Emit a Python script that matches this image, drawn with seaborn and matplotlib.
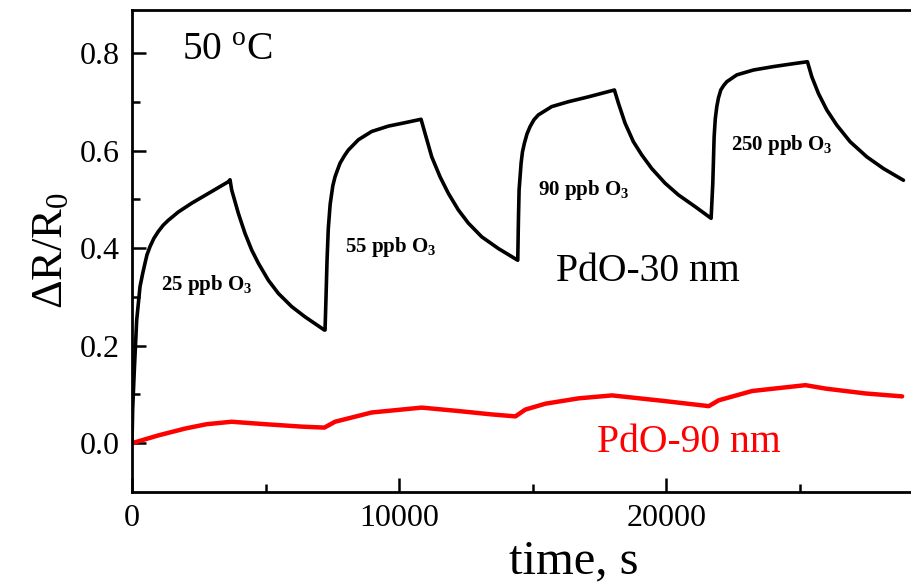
import matplotlib
matplotlib.use("Agg")
import matplotlib.pyplot as plt
import seaborn as sns
import pandas as pd

# PdO-30 nm film response (time in s, dR/R0)
t_30 = [0, 25, 87, 175, 300, 400, 487, 560, 674, 820, 985, 1170, 1360, 1735, 2235, 2860, 3607, 3670,
        3733, 3983, 4232, 4482, 4731, 5106, 5481, 5980, 6479, 7203,
        7228, 7265, 7303, 7350, 7420, 7478, 7520, 7602, 7680, 7790, 7950, 8101, 8476, 8975, 9600, 10224, 10823,
        10973, 11223, 11535, 11847, 12221, 12596, 13096, 13720, 14444,
        14469, 14494, 14569, 14620, 14693, 14790, 14905, 15050, 15216, 15716, 16340, 17090, 18063,
        18213, 18462, 18774, 19086, 19461, 19960, 20459, 21084, 21684,
        21747, 21797, 21840, 21897, 21960, 22046, 22150, 22271, 22646, 23269, 24018, 24643, 25290,
        25455, 25702, 26016, 26390, 26889, 27514, 28137, 28886]
r_30 = [0.0, 0.07, 0.150, 0.252, 0.321, 0.348, 0.369, 0.386, 0.403, 0.420, 0.434, 0.447, 0.457, 0.474, 0.492, 0.512, 0.536, 0.540,
        0.519, 0.471, 0.430, 0.396, 0.369, 0.334, 0.307, 0.280, 0.259, 0.232,
        0.232, 0.300, 0.375, 0.440, 0.490, 0.512, 0.528, 0.546, 0.558, 0.574, 0.589, 0.601, 0.622, 0.639, 0.650, 0.657, 0.664,
        0.635, 0.587, 0.546, 0.512, 0.478, 0.451, 0.423, 0.399, 0.375,
        0.457, 0.519, 0.574, 0.597, 0.615, 0.634, 0.649, 0.663, 0.673, 0.690, 0.700, 0.710, 0.724,
        0.697, 0.656, 0.618, 0.591, 0.563, 0.533, 0.509, 0.485, 0.461,
        0.533, 0.628, 0.665, 0.690, 0.708, 0.724, 0.733, 0.741, 0.755, 0.765, 0.772, 0.777, 0.782,
        0.751, 0.717, 0.683, 0.652, 0.618, 0.587, 0.563, 0.539]

# PdO-90 nm film response
t_90 = [0, 985, 1985, 2797, 3733, 4981, 6355, 7203, 7602, 8975, 10848, 12221, 13471, 14357,
        14730, 15479, 16728, 17976, 19848, 21597, 21971, 23219, 25215, 25964, 27462, 28836]
r_90 = [0.0, 0.016, 0.030, 0.039, 0.044, 0.039, 0.034, 0.032, 0.044, 0.063, 0.073, 0.066, 0.059, 0.055,
        0.069, 0.081, 0.092, 0.098, 0.087, 0.076, 0.088, 0.107, 0.119, 0.112, 0.102, 0.096]

# Ozone pulse labels: text, time, dR/R0
pulse_labels = [r"25 ppb O$_\mathbf{3}$", r"55 ppb O$_\mathbf{3}$",
                r"90 ppb O$_\mathbf{3}$", r"250 ppb O$_\mathbf{3}$"]
pulse_t = [1086, 7977, 15193, 22430]
pulse_r = [0.324, 0.402, 0.519, 0.611]

x_ticks = [0, 10000, 20000]
y_ticks = [0.0, 0.2, 0.4, 0.6, 0.8]

sns.set_style("ticks")
plt.rcParams["font.family"] = ["Liberation Serif", "DejaVu Serif"]
plt.rcParams["mathtext.fontset"] = "custom"
plt.rcParams["mathtext.rm"] = "Liberation Serif"
plt.rcParams["mathtext.it"] = "Liberation Serif:italic"
plt.rcParams["mathtext.bf"] = "Liberation Serif:bold"
for key in ["text.color", "axes.labelcolor", "xtick.color", "ytick.color", "axes.edgecolor"]:
    plt.rcParams[key] = "black"

fig = plt.figure(figsize=(9.12, 5.84), dpi=100)
ax = fig.add_axes([132 / 912, 92 / 584, 884 / 912, 482 / 584])

df30 = pd.DataFrame({"t": t_30, "r": r_30})
df90 = pd.DataFrame({"t": t_90, "r": r_90})
sns.lineplot(data=df30, x="t", y="r", ax=ax, color="black", lw=2.6,
             sort=False, estimator=None, solid_joinstyle="round")
sns.lineplot(data=df90, x="t", y="r", ax=ax, color="#ff0000", lw=3.2,
             sort=False, estimator=None, solid_joinstyle="round")

ax.set_xlim(0, 33100)
ax.set_ylim(-0.1, 0.888)
ax.set_xticks(x_ticks + [30000])
ax.set_xticklabels([str(v) for v in x_ticks] + [""])
ax.set_xticks([5000, 15000, 25000], minor=True)
ax.set_yticks(y_ticks)
ax.set_yticks([0.1, 0.3, 0.5, 0.7], minor=True)
ax.set_yticklabels([f"{v:.1f}" for v in y_ticks])
ax.tick_params(which="major", direction="in", length=10, width=1.8,
               labelsize=23, pad=9)
ax.tick_params(which="minor", direction="in", length=6, width=1.8)
for side in ["left", "bottom", "top", "right"]:
    ax.spines[side].set_linewidth(2.0)

ax.set_xlabel("time, s", fontsize=35, labelpad=4)
ax.set_ylabel(r"ΔR/R$_0$", fontsize=32, labelpad=6)

ax.text(1873, 0.806, r"50 $^{\mathrm{o}}$C", fontsize=28.5, va="center", ha="left")
for lab, tx, ry in zip(pulse_labels, pulse_t, pulse_r):
    ax.text(tx, ry, lab, fontsize=15, fontweight="bold", va="center", ha="left")
ax.text(15879, 0.351, "PdO-30 nm", fontsize=28.5, va="center", ha="left")
ax.text(17414, 0.002, "PdO-90 nm", fontsize=28.5, va="center", ha="left", color="#ff0000")

fig.savefig("out.png", dpi=100)
